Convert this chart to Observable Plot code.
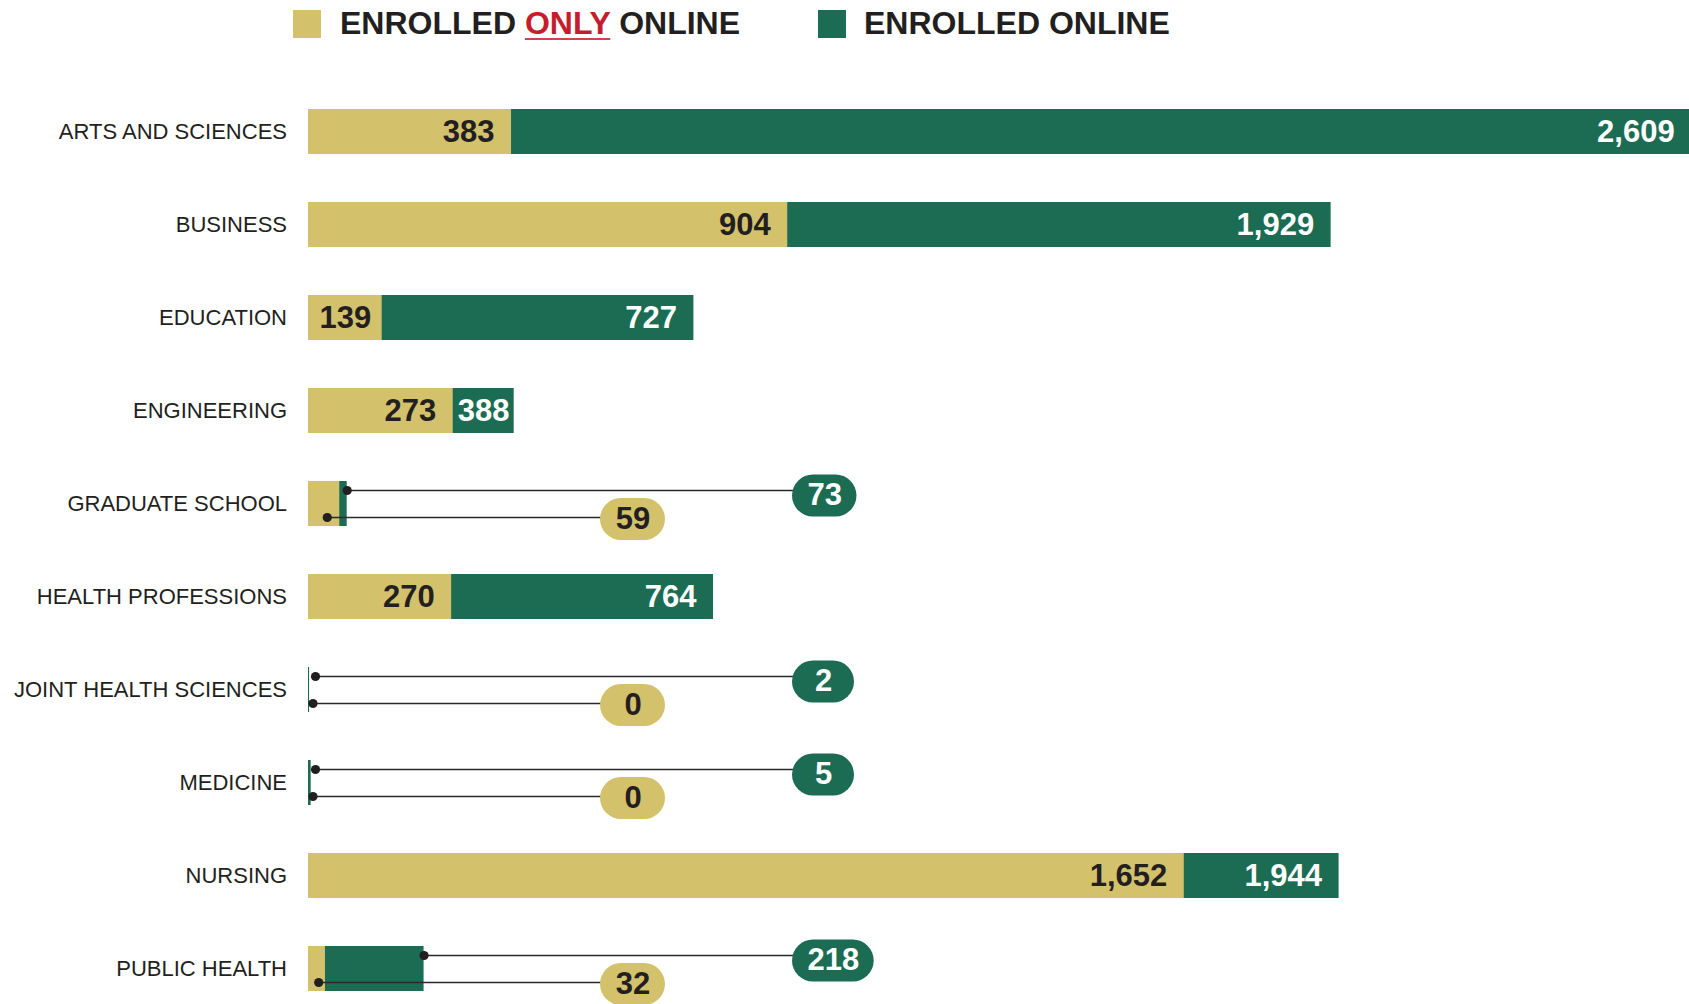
<!DOCTYPE html>
<html>
<head>
<meta charset="utf-8">
<script src="https://cdn.jsdelivr.net/npm/d3@7"></script>
<script src="https://cdn.jsdelivr.net/npm/@observablehq/plot@0.6"></script>
<style>
  html, body { margin: 0; padding: 0; background: #fff; }
  body { width: 1689px; height: 1004px; overflow: hidden; font-family: "Liberation Sans", Arial, Helvetica, sans-serif; color: #231F20; }
  #legend { position: relative; width: 1689px; height: 50px; }
  #legend .sw { position: absolute; top: 9.5px; width: 28px; height: 28px; }
  #legend .lt { position: absolute; top: 5px; font-weight: bold; font-size: 32px; line-height: 36px; white-space: nowrap; color: #231F20; }
  #legend .only { color: #C41E2E; text-decoration: underline; text-decoration-color: #CC4450; text-decoration-thickness: 2px; text-underline-offset: 4px; }
  #chart svg { display: block; }
</style>
</head>
<body>
<div id="legend">
  <div class="sw" style="left:293px;background:#D4C16C"></div>
  <div class="lt" style="left:340px">ENROLLED <span class="only">ONLY</span> ONLINE</div>
  <div class="sw" style="left:818px;background:#1B6C53"></div>
  <div class="lt" style="left:864px">ENROLLED ONLINE</div>
</div>
<div id="chart"></div>
<script>
// ---- data ----
const categories = ["ARTS AND SCIENCES", "BUSINESS", "EDUCATION", "ENGINEERING", "GRADUATE SCHOOL",
  "HEALTH PROFESSIONS", "JOINT HEALTH SCIENCES", "MEDICINE", "NURSING", "PUBLIC HEALTH"];
const enrolledOnlyOnline = [383, 904, 139, 273, 59, 270, 0, 0, 1652, 32];
const enrolledOnline = [2609, 1929, 727, 388, 73, 764, 2, 5, 1944, 218];

// ---- layout ----
const GOLD = "#D4C16C", GREEN = "#1B6C53", INK = "#231F20";
const W = 1689, H = 954, ML = 308, MR = 0, MT = 49, MB = 2.5;
const XMAX = 2605;
const k = (W - ML - MR) / XMAX;          // px per unit
const px2v = px => (px - ML) / k;         // absolute svg px -> data value
const FS = 31;
const fmt = d3.format(",");
const textW = s => [...s].reduce((a, c) => a + (c === "," ? 0.278 : 0.556) * FS, 0);

const rows = categories.map((name, i) => {
  const only = enrolledOnlyOnline[i], total = enrolledOnline[i];
  const goldPx = only * k, segPx = (total - only) * k;
  const lwO = textW(fmt(only)), lwT = textW(fmt(total));
  const callout = goldPx < lwO + 4 || segPx < lwT + 4;
  const gapO = Math.min(17, Math.max(3, (goldPx - lwO) / 2));
  const gapT = Math.min(17, Math.max(3, (segPx - lwT) / 2));
  return {name, only, total, callout, lwO, lwT,
    onlyLabelX: only - gapO / k, totalLabelX: total - gapT / k};
});
const inline = rows.filter(d => !d.callout);
const calls = rows.filter(d => d.callout).map(d => {
  const gw = Math.max(62, d.lwT + 30), ow = Math.max(65, d.lwO + 30);
  const gL = 792, oL = 600;
  return {...d,
    upX: Math.max(d.total, 7 / k), loX: Math.max(d.only * 0.6, 4.5 / k),
    gLineEnd: px2v(gL + 12), oLineEnd: px2v(oL + 12),
    g1: px2v(gL + 21), g2: px2v(gL + gw - 21), gC: px2v(gL + gw / 2),
    o1: px2v(oL + 21), o2: px2v(oL + ow - 21), oC: px2v(oL + ow / 2)};
});
const tiny = rows.filter(d => d.total * k < 3);

const chart = Plot.plot({
  width: W, height: H,
  marginLeft: ML, marginRight: MR, marginTop: MT, marginBottom: MB,
  style: {fontFamily: "'Liberation Sans', Arial, Helvetica, sans-serif", fontSize: "22px", color: INK, background: "#fff"},
  x: {domain: [0, XMAX], axis: null},
  y: {domain: categories, paddingInner: 0.511, paddingOuter: 0.1, axis: null},
  marks: [
    Plot.axisY({tickSize: 0, tickPadding: 21.5, fontSize: 22, label: null, fill: INK}),
    Plot.barX(rows, {y: "name", x1: 0, x2: "total", fill: GREEN}),
    Plot.barX(rows, {y: "name", x1: 0, x2: "only", fill: GOLD}),
    Plot.ruleX(tiny, {x: 0, y: "name", dx: 1.5, stroke: GREEN, strokeWidth: 3}),
    // inline value labels
    Plot.text(inline, {y: "name", x: "onlyLabelX", text: d => fmt(d.only), textAnchor: "end",
      fill: INK, fontSize: FS, fontWeight: "bold"}),
    Plot.text(inline, {y: "name", x: "totalLabelX", text: d => fmt(d.total), textAnchor: "end",
      fill: "#fff", fontSize: FS, fontWeight: "bold"}),
    // callout leader lines
    Plot.ruleY(calls, {y: "name", x1: "upX", x2: "gLineEnd", dy: -13.5, stroke: "#2a2a2a", strokeWidth: 1.6}),
    Plot.ruleY(calls, {y: "name", x1: "loX", x2: "oLineEnd", dy: 13.5, stroke: "#2a2a2a", strokeWidth: 1.6}),
    Plot.dot(calls, {y: "name", x: "upX", dy: -13.5, r: 4.6, fill: INK}),
    Plot.dot(calls, {y: "name", x: "loX", dy: 13.5, r: 4.6, fill: INK}),
    // pills
    Plot.ruleY(calls, {y: "name", x1: "g1", x2: "g2", dy: -8.5, stroke: GREEN, strokeWidth: 42, strokeLinecap: "round"}),
    Plot.ruleY(calls, {y: "name", x1: "o1", x2: "o2", dy: 15, stroke: GOLD, strokeWidth: 42, strokeLinecap: "round"}),
    Plot.text(calls, {y: "name", x: "gC", dy: -8.5, text: d => fmt(d.total), fill: "#fff", fontSize: FS, fontWeight: "bold"}),
    Plot.text(calls, {y: "name", x: "oC", dy: 15, text: d => fmt(d.only), fill: INK, fontSize: FS, fontWeight: "bold"})
  ]
});
document.getElementById("chart").appendChild(chart);
</script>
</body>
</html>
